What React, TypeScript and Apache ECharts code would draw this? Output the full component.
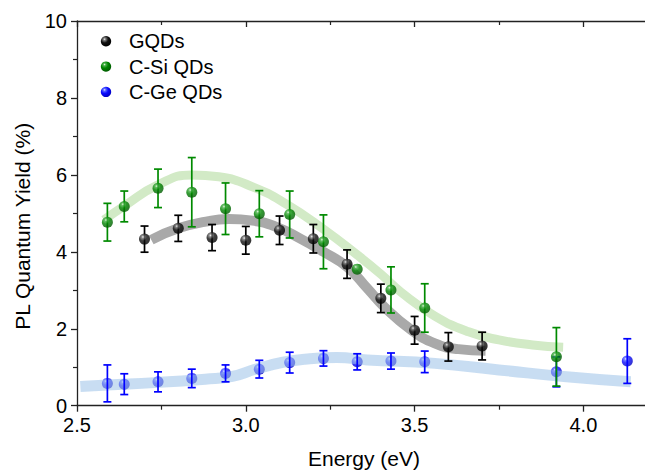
import React, { useEffect, useRef } from "react";
import * as echarts from "echarts";

const FONT = 'Arial, "Liberation Sans", sans-serif';

// Measured data (Energy in eV, PL QY in %)
const xGQD = [2.70, 2.80, 2.90, 3.00, 3.10, 3.20, 3.30, 3.40, 3.50, 3.60, 3.70];
const yGQD = [4.33, 4.61, 4.37, 4.30, 4.56, 4.34, 3.68, 2.79, 1.96, 1.53, 1.55];
const eGQD = [0.34, 0.34, 0.34, 0.36, 0.37, 0.37, 0.37, 0.37, 0.36, 0.37, 0.36];

const xSi = [2.59, 2.64, 2.74, 2.84, 2.94, 3.04, 3.13, 3.23, 3.33, 3.43, 3.53, 3.92];
const ySi = [4.77, 5.18, 5.65, 5.55, 5.12, 4.99, 4.97, 4.26, 3.55, 3.01, 2.54, 1.27];
const eSi = [0.49, 0.40, 0.50, 0.90, 0.67, 0.60, 0.61, 0.70, 0.0, 0.60, 0.63, 0.76];

const xGe = [2.59, 2.64, 2.74, 2.84, 2.94, 3.04, 3.13, 3.23, 3.33, 3.43, 3.53, 3.92, 4.13];
const yGe = [0.58, 0.56, 0.62, 0.71, 0.84, 0.95, 1.12, 1.23, 1.14, 1.16, 1.14, 0.88, 1.16];
const eGe = [0.48, 0.27, 0.26, 0.24, 0.22, 0.23, 0.27, 0.20, 0.21, 0.21, 0.28, 0.39, 0.58];

// Guide-to-the-eye fitted curves
const fitGQDx = [2.72, 2.80, 2.89, 2.95, 3.02, 3.09, 3.16, 3.23, 3.30, 3.36, 3.41, 3.49, 3.56, 3.63, 3.71];
const fitGQDy = [4.31, 4.61, 4.80, 4.85, 4.81, 4.65, 4.35, 4.00, 3.61, 3.05, 2.57, 1.97, 1.62, 1.47, 1.43];

const fitSix = [2.58, 2.64, 2.74, 2.84, 2.92, 3.02, 3.12, 3.23, 3.33, 3.40, 3.46, 3.56, 3.66, 3.75, 3.85, 3.94];
const fitSiy = [4.83, 5.19, 5.74, 6.00, 5.95, 5.69, 5.24, 4.59, 3.92, 3.42, 2.95, 2.33, 1.92, 1.71, 1.58, 1.52];

const fitGex = [2.51, 2.59, 2.73, 2.88, 2.96, 3.03, 3.11, 3.19, 3.27, 3.36, 3.56, 3.75, 3.95, 4.14];
const fitGey = [0.50, 0.54, 0.60, 0.69, 0.76, 0.95, 1.13, 1.22, 1.25, 1.19, 1.10, 0.93, 0.75, 0.62];

const legendNames = ["GQDs", "C-Si QDs", "C-Ge QDs"];

const sphere = (hi: string, mid: string, base: string, edge: string) => ({
  type: "radial",
  x: 0.36,
  y: 0.3,
  r: 0.7,
  colorStops: [
    { offset: 0, color: hi },
    { offset: 0.18, color: mid },
    { offset: 0.5, color: base },
    { offset: 1, color: edge },
  ],
});

const BLACK = sphere("#f2f2f2", "#777777", "#111111", "#000000");
const GREEN = sphere("#e4f6dc", "#48b048", "#008400", "#005c00");
const BLUE = sphere("#e8eaff", "#5a68ff", "#0a0aff", "#0000c4");

function errSeries(name: string, xs: number[], ys: number[], es: number[], color: string, z: number) {
  return {
    type: "custom",
    name,
    z,
    data: xs.map((x, i) => [x, ys[i], es[i]]),
    encode: { x: 0, y: 1 },
    silent: true,
    clip: false,
    renderItem: (params: any, api: any) => {
      const x = api.value(0);
      const y = api.value(1);
      const e = api.value(2);
      if (!e) return { type: "group", children: [] };
      const t = api.coord([x, y + e]);
      const b = api.coord([x, y - e]);
      const w = 4;
      const st = { stroke: color, lineWidth: 1.7 };
      return {
        type: "group",
        children: [
          { type: "line", shape: { x1: t[0], y1: t[1], x2: b[0], y2: b[1] }, style: st },
          { type: "line", shape: { x1: t[0] - w, y1: t[1], x2: t[0] + w, y2: t[1] }, style: st },
          { type: "line", shape: { x1: b[0] - w, y1: b[1], x2: b[0] + w, y2: b[1] }, style: st },
        ],
      };
    },
  };
}

function scatter(name: string, xs: number[], ys: number[], color: any, z: number) {
  return {
    type: "scatter",
    name,
    z,
    data: xs.map((x, i) => [x, ys[i]]),
    symbol: "circle",
    symbolSize: 11,
    itemStyle: { color },
    silent: true,
  };
}

function band(xs: number[], ys: number[], color: string, width: number, z: number) {
  return {
    type: "line",
    z,
    data: xs.map((x, i) => [x, ys[i]]),
    smooth: 0.5,
    showSymbol: false,
    symbol: "none",
    silent: true,
    lineStyle: { color, width, cap: "butt" },
  };
}

const axisColor = "#222";

export default function App() {
  const ref = useRef<HTMLDivElement>(null);
  useEffect(() => {
    if (!ref.current) return;
    const chart = echarts.init(ref.current, undefined, { renderer: "svg" });
    const labelStyle = { fontSize: 20, color: "#000", fontFamily: FONT };
    const lineStyle = { color: axisColor, width: 1.3 };
    const minorStyle = { color: axisColor, width: 1.2 };
    const legendColors = [BLACK, GREEN, BLUE];
    const graphic: any[] = [];
    legendNames.forEach((n, i) => {
      const cy = 41.3 + i * 25.3;
      graphic.push({
        type: "circle",
        shape: { cx: 106, cy, r: 5.2 },
        style: { fill: legendColors[i] },
        silent: true,
      });
      graphic.push({
        type: "text",
        x: 129,
        y: cy,
        style: { text: n, fontSize: 20, fontFamily: FONT, fill: "#000", verticalAlign: "middle" },
        silent: true,
      });
    });

    chart.setOption({
      animation: false,
      backgroundColor: "#fff",
      grid: {
        left: 77,
        top: 21,
        width: 675.2,
        height: 384.7,
        containLabel: false,
        outerBoundsMode: "none",
      },
      xAxis: [
        {
          type: "value",
          position: "bottom",
          min: 2.5,
          max: 4.5,
          interval: 0.5,
          axisLine: { onZero: false, lineStyle },
          axisTick: { show: true, inside: false, length: 6, lineStyle },
          minorTick: { show: true, splitNumber: 2, length: 4, lineStyle: minorStyle },
          splitLine: { show: false },
          axisLabel: { ...labelStyle, margin: 9, showMaxLabel: false, formatter: (v: number) => v.toFixed(1) },
          name: "Energy (eV)",
          nameLocation: "start",
          nameGap: -287,
          nameTextStyle: { fontSize: 21, color: "#000", fontFamily: FONT, align: "center", verticalAlign: "top", padding: [42, 0, 0, 0] },
        },
        {
          type: "value",
          position: "top",
          min: 2.5,
          max: 4.5,
          interval: 0.5,
          axisLine: { onZero: false, lineStyle },
          axisTick: { show: true, inside: true, length: 6, lineStyle },
          minorTick: { show: true, splitNumber: 2, length: 4, lineStyle: minorStyle },
          splitLine: { show: false },
          axisLabel: { show: false },
        },
      ],
      yAxis: [
        {
          type: "value",
          position: "left",
          min: 0,
          max: 10,
          interval: 2,
          axisLine: { onZero: false, lineStyle },
          axisTick: { show: true, inside: false, length: 6, lineStyle },
          minorTick: { show: true, splitNumber: 2, length: 4, lineStyle: minorStyle },
          splitLine: { show: false },
          axisLabel: { ...labelStyle, margin: 10 },
          name: "PL Quantum Yield (%)",
          nameLocation: "middle",
          nameGap: 44,
          nameTextStyle: { fontSize: 21, color: "#000", fontFamily: FONT, padding: [0, 26, 0, 0] },
        },
        {
          type: "value",
          position: "right",
          offset: -101,
          min: 0,
          max: 10,
          interval: 2,
          axisLine: { onZero: false, lineStyle },
          axisTick: { show: true, inside: true, length: 6, lineStyle },
          minorTick: { show: true, splitNumber: 2, length: 4, lineStyle: minorStyle },
          splitLine: { show: false },
          axisLabel: { show: false },
        },
      ],
      graphic,
      series: [
        scatter("C-Ge QDs", xGe, yGe, BLUE, 1),
        band(fitGex, fitGey, "rgba(159,195,232,0.57)", 11, 2),
        errSeries("C-Ge QDs err", xGe, yGe, eGe, "#0000ff", 3),
        band(fitSix, fitSiy, "#d2eac6", 9, 4),
        band(fitGQDx, fitGQDy, "#a9a9a9", 10, 4),
        errSeries("GQDs err", xGQD, yGQD, eGQD, "#000000", 5),
        scatter("GQDs", xGQD, yGQD, BLACK, 6),
        errSeries("C-Si QDs err", xSi, ySi, eSi, "#008a00", 7),
        scatter("C-Si QDs", xSi, ySi, GREEN, 8),
      ],
    });
    return () => chart.dispose();
  }, []);
  return (
    <div
      ref={ref}
      style={{ position: "absolute", left: 0, top: 0, width: 645, height: 473, background: "#fff" }}
    />
  );
}
